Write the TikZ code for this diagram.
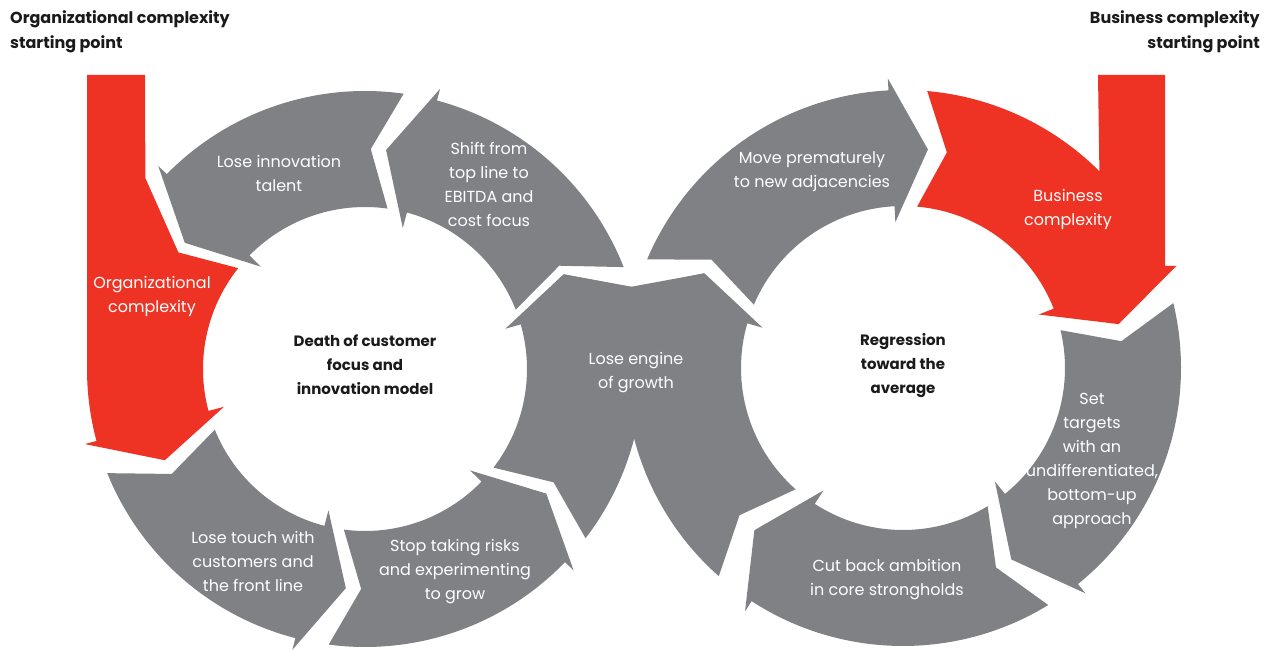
\documentclass[tikz,border=0pt]{standalone}
\usepackage{fontspec}
\setmainfont{Poppins}
\usepackage{tikz}
\definecolor{LoopGray}{HTML}{808185}
\definecolor{StartRed}{HTML}{EE3324}
\definecolor{Ink}{HTML}{1A1A1A}
\newcommand{\steptextfont}{\fontsize{16}{24}\selectfont}
\newcommand{\coretextfont}{\fontsize{15}{24}\selectfont\bfseries}
\newcommand{\starttextfont}{\fontsize{16}{25}\selectfont\bfseries}
\def\ringin{162}
\def\ringout{278}
\def\ringmid{220}
% one bent arrow of a loop: #1 tail angle, #2 head angle, #3 +1 ccw / -1 cw, #4 colour
\newcommand{\ringarrow}[4]{%
  \fill[#4] (#1:\ringout) arc[start angle=#1, end angle=#2, radius=\ringout]
    -- (#2:{\ringout+12}) -- ({#2+9.5*(#3)}:\ringmid) -- (#2:{\ringin-16})
    -- (#2:\ringin) arc[start angle=#2, end angle=#1, radius=\ringin]
    -- ({#1+6.5*(#3)}:\ringmid) -- cycle;}
\tikzset{
  steplabel/.style={text=white, align=center, font=\steptextfont, inner sep=0pt},
  corelabel/.style={text=Ink, align=center, font=\coretextfont, inner sep=0pt},
  startlabel/.style={text=Ink, font=\starttextfont, inner sep=0pt},
}

\begin{document}
\begin{tikzpicture}[x=1pt, y=1pt]
    \useasboundingbox (0,0) rectangle (1272,649);

    % Left loop
    \begin{scope}[shift={(365,280)}]
        \ringarrow{202}{255.5}{1}{LoopGray}
        \ringarrow{262.5}{316}{1}{LoopGray}
        \ringarrow{322.5}{376}{1}{LoopGray}
        \ringarrow{21.5}{75}{1}{LoopGray}
        \ringarrow{82}{135.5}{1}{LoopGray}
        % red entry arrow
        \fill[StartRed] (-278,294) -- (-278,0)
            arc[start angle=180, end angle=195, radius=\ringout]
            -- (195:290) -- (204.5:\ringmid) -- (195:146) -- (195:\ringin)
            arc[start angle=195, end angle=141.5, radius=\ringin]
            -- (148:\ringmid) -- (139:291) -- (-220,294) -- cycle;
    \end{scope}

    % Right loop
    \begin{scope}[shift={(903,281)}]
        \ringarrow{157}{93}{-1}{LoopGray}
        \ringarrow{13.5}{-51}{-1}{LoopGray}
        \ringarrow{-58.5}{-123}{-1}{LoopGray}
        \ringarrow{-131.5}{-196}{-1}{LoopGray}
        % red entry arrow
        \fill[StartRed] (85:\ringout)
            arc[start angle=85, end angle=45.05, radius=\ringout]
            -- (195,293) -- (262,293) -- (262,102) -- (20.5:292)
            -- (11.5:\ringmid) -- (21.5:146) -- (21.5:\ringin)
            arc[start angle=21.5, end angle=85, radius=\ringin]
            -- (78.5:\ringmid) -- cycle;
    \end{scope}

    % fill between the two heads of the crossing
    \fill[LoopGray] (563.6,374.7) -- (634,361.5) -- (704.4,375.7) -- (634,250) -- cycle;

    % Starting points
    \node[startlabel, anchor=north west, align=left] (orgStart) at (10,639)
        {Organizational complexity\\starting point};
    \node[startlabel, anchor=north east, align=right] (bizStart) at (1260,639)
        {Business complexity\\starting point};

    % Loop centres
    \node[corelabel] (deathCore) at (365,284) {Death of customer\\focus and\\innovation model};
    \node[corelabel] (regressCore) at (903,283) {Regression\\toward the\\average};

    % Step labels
    \node[steplabel] (orgCx) at (152,353) {Organizational\\complexity};
    \node[steplabel] (innovTalent) at (279,476) {Lose innovation\\talent};
    \node[steplabel] (shiftFocus) at (489,465) {Shift from\\top line to\\EBITDA and\\cost focus};
    \node[steplabel] (engineLoss) at (636,276) {Lose engine\\of growth};
    \node[steplabel] (loseTouch) at (253,88) {Lose touch with\\customers and\\the front line};
    \node[steplabel] (stopRisks) at (455,77) {Stop taking risks\\and experimenting\\to grow};
    \node[steplabel] (moveAdj) at (812,477) {Move prematurely\\to new adjacencies};
    \node[steplabel] (bizCx) at (1068,440) {Business\\complexity};
    \node[steplabel] (setTargets) at (1092,188) {Set\\targets\\with an\\undifferentiated,\\bottom-up\\approach};
    \node[steplabel] (cutBack) at (887,69) {Cut back ambition\\in core strongholds};
\end{tikzpicture}
\end{document}
